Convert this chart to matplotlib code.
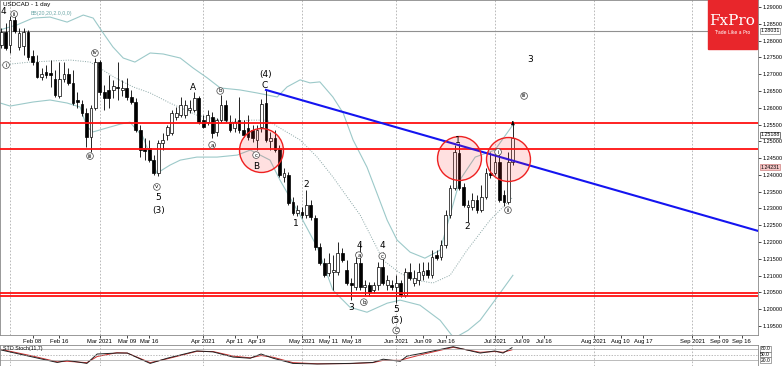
import numpy as np
import pandas as pd
import matplotlib
matplotlib.use('Agg')
import matplotlib.pyplot as plt
from matplotlib.patches import Rectangle

# daily candles from 2021-01-28 (business days)
start = '2021-01-28'
opens = [1.2787, 1.2826, 1.2787, 1.2861, 1.2781, 1.2784, 1.2826, 1.2754, 1.2736, 1.2692,
         1.2706, 1.2703, 1.2686, 1.2635, 1.2686, 1.2700, 1.2674, 1.2623, 1.2611, 1.2584,
         1.2513, 1.2599, 1.2736, 1.2647, 1.2653, 1.2653, 1.2662, 1.2653, 1.2659, 1.2632,
         1.2617, 1.2534, 1.2480, 1.2480, 1.2444, 1.2405, 1.2495, 1.2519, 1.2525, 1.2572,
         1.2578, 1.2578, 1.2593, 1.2593, 1.2629, 1.2563, 1.2557, 1.2572, 1.2528, 1.2563,
         1.2608, 1.2557, 1.2540, 1.2563, 1.2534, 1.2540, 1.2534, 1.2504, 1.2543, 1.2614,
         1.2501, 1.2510, 1.2480, 1.2394, 1.2400, 1.2319, 1.2286, 1.2289, 1.2280, 1.2310,
         1.2271, 1.2185, 1.2137, 1.2107, 1.2110, 1.2110, 1.2167, 1.2116, 1.2078, 1.2066,
         1.2137, 1.2066, 1.2072, 1.2057, 1.2072, 1.2125, 1.2072, 1.2072, 1.2066, 1.2078,
         1.2042, 1.2110, 1.2078, 1.2087, 1.2101, 1.2116, 1.2101, 1.2161, 1.2155, 1.2191,
         1.2280, 1.2361, 1.2465, 1.2364, 1.2304, 1.2304, 1.2325, 1.2295, 1.2334, 1.2405,
         1.2405, 1.2438, 1.2340, 1.2319, 1.2438]
highs = [1.2838, 1.2852, 1.2873, 1.2879, 1.2838, 1.2838, 1.2832, 1.2772, 1.2757, 1.2718,
         1.2727, 1.2742, 1.2712, 1.2736, 1.2736, 1.2718, 1.2712, 1.2647, 1.2623, 1.2599,
         1.2608, 1.2748, 1.2742, 1.2668, 1.2698, 1.2683, 1.2736, 1.2683, 1.2689, 1.2653,
         1.2629, 1.2549, 1.2510, 1.2504, 1.2459, 1.2504, 1.2525, 1.2549, 1.2593, 1.2602,
         1.2632, 1.2623, 1.2623, 1.2647, 1.2635, 1.2578, 1.2593, 1.2587, 1.2569, 1.2638,
         1.2623, 1.2578, 1.2569, 1.2632, 1.2563, 1.2578, 1.2549, 1.2549, 1.2626, 1.2653,
         1.2528, 1.2534, 1.2489, 1.2420, 1.2408, 1.2334, 1.2310, 1.2304, 1.2355, 1.2325,
         1.2280, 1.2197, 1.2152, 1.2167, 1.2161, 1.2200, 1.2182, 1.2146, 1.2093, 1.2170,
         1.2197, 1.2087, 1.2081, 1.2081, 1.2140, 1.2170, 1.2101, 1.2087, 1.2101, 1.2087,
         1.2122, 1.2137, 1.2116, 1.2137, 1.2140, 1.2140, 1.2176, 1.2176, 1.2206, 1.2295,
         1.2370, 1.2489, 1.2495, 1.2376, 1.2325, 1.2346, 1.2340, 1.2370, 1.2420, 1.2468,
         1.2474, 1.2474, 1.2355, 1.2468, 1.2554]
lows = [1.2778, 1.2772, 1.2763, 1.2823, 1.2772, 1.2757, 1.2742, 1.2727, 1.2689, 1.2683,
        1.2689, 1.2662, 1.2632, 1.2629, 1.2677, 1.2668, 1.2608, 1.2599, 1.2575, 1.2483,
        1.2468, 1.2593, 1.2638, 1.2593, 1.2599, 1.2629, 1.2623, 1.2635, 1.2623, 1.2611,
        1.2528, 1.2453, 1.2444, 1.2438, 1.2400, 1.2397, 1.2474, 1.2504, 1.2519, 1.2563,
        1.2572, 1.2569, 1.2584, 1.2587, 1.2551, 1.2540, 1.2549, 1.2510, 1.2516, 1.2557,
        1.2557, 1.2528, 1.2528, 1.2525, 1.2513, 1.2504, 1.2498, 1.2474, 1.2528, 1.2498,
        1.2474, 1.2468, 1.2394, 1.2379, 1.2310, 1.2280, 1.2277, 1.2271, 1.2271, 1.2265,
        1.2176, 1.2131, 1.2096, 1.2099, 1.2057, 1.2101, 1.2140, 1.2072, 1.2027, 1.2057,
        1.2057, 1.2042, 1.2039, 1.2048, 1.2057, 1.2072, 1.2057, 1.2057, 1.2018, 1.2036,
        1.2036, 1.2087, 1.2069, 1.2072, 1.2087, 1.2093, 1.2093, 1.2146, 1.2146, 1.2182,
        1.2271, 1.2355, 1.2355, 1.2304, 1.2259, 1.2295, 1.2286, 1.2289, 1.2328, 1.2391,
        1.2400, 1.2319, 1.2307, 1.2313, 1.2429]
closes = [1.2826, 1.2778, 1.2861, 1.2829, 1.2823, 1.2826, 1.2751, 1.2736, 1.2692, 1.2700,
          1.2698, 1.2698, 1.2638, 1.2686, 1.2700, 1.2674, 1.2614, 1.2617, 1.2584, 1.2513,
          1.2599, 1.2736, 1.2647, 1.2629, 1.2629, 1.2665, 1.2659, 1.2659, 1.2632, 1.2617,
          1.2534, 1.2474, 1.2471, 1.2444, 1.2405, 1.2495, 1.2504, 1.2543, 1.2584, 1.2584,
          1.2608, 1.2608, 1.2599, 1.2629, 1.2557, 1.2543, 1.2578, 1.2525, 1.2563, 1.2608,
          1.2563, 1.2534, 1.2557, 1.2534, 1.2519, 1.2513, 1.2510, 1.2534, 1.2611, 1.2504,
          1.2510, 1.2474, 1.2400, 1.2405, 1.2316, 1.2286, 1.2295, 1.2280, 1.2310, 1.2274,
          1.2185, 1.2137, 1.2101, 1.2137, 1.2116, 1.2167, 1.2146, 1.2078, 1.2072, 1.2137,
          1.2066, 1.2072, 1.2051, 1.2072, 1.2125, 1.2078, 1.2087, 1.2066, 1.2078, 1.2042,
          1.2110, 1.2093, 1.2093, 1.2110, 1.2113, 1.2101, 1.2155, 1.2152, 1.2191, 1.2280,
          1.2361, 1.2468, 1.2361, 1.2310, 1.2310, 1.2325, 1.2295, 1.2334, 1.2405, 1.2400,
          1.2438, 1.2325, 1.2319, 1.2438, 1.2510]

# Bollinger bands (bar index, price)
bb_up_x = [-0.2, 3.6, 7.1, 10.9, 14.7, 18.3, 20.5, 22.7, 24.9, 27.2, 29.8, 33.2, 36.1, 39.9, 42.8,
           45.9, 48.8, 53.2, 57.0, 61.5, 63.7, 66.6, 68.8, 71.0, 73.9, 76.2, 78.4, 81.5, 83.7,
           86.0, 88.2, 91.1, 94.4, 97.8, 100.0, 102.2, 105.6, 110.0, 114.0]
bb_up_y = [1.2832, 1.2847, 1.2867, 1.2870, 1.2855, 1.2876, 1.2867, 1.2823, 1.2781, 1.2748, 1.2736,
           1.2763, 1.2760, 1.2748, 1.2718, 1.2689, 1.2659, 1.2653, 1.2644, 1.2632, 1.2662, 1.2683,
           1.2674, 1.2677, 1.2632, 1.2584, 1.2504, 1.2423, 1.2346, 1.2265, 1.2206, 1.2170, 1.2152,
           1.2176, 1.2280, 1.2385, 1.2453, 1.2474, 1.2549]
bb_mid_x = [-0.2, 6.5, 15.4, 19.8, 22.0, 25.4, 29.4, 33.2, 37.6, 43.6, 51.0, 55.5, 59.2, 62.8,
            66.6, 70.4, 73.9, 77.1, 80.0, 85.1, 88.9, 92.2, 96.2, 100.0, 103.8, 108.9, 114.0]
bb_mid_y = [1.2727, 1.2736, 1.2742, 1.2736, 1.2718, 1.2689, 1.2662, 1.2644, 1.2614, 1.2578,
            1.2557, 1.2563, 1.2563, 1.2534, 1.2504, 1.2453, 1.2394, 1.2334, 1.2280, 1.2146,
            1.2107, 1.2087, 1.2078, 1.2101, 1.2176, 1.2265, 1.2334]
bb_lo_x = [-0.2, 2.0, 7.1, 10.9, 14.7, 17.6, 19.1, 20.5, 23.6, 26.5, 28.7, 31.6, 34.7, 37.6,
           39.9, 43.6, 48.1, 52.6, 55.5, 59.9, 62.1, 64.4, 66.6, 70.4, 73.9, 77.7, 81.5, 86.0,
           88.9, 93.3, 97.8, 100.4, 101.6, 104.0, 106.7, 110.0, 114.0]
bb_lo_y = [1.2614, 1.2605, 1.2617, 1.2623, 1.2614, 1.2602, 1.2543, 1.2528, 1.2540, 1.2551,
           1.2557, 1.2513, 1.2405, 1.2429, 1.2444, 1.2453, 1.2453, 1.2459, 1.2474, 1.2444,
           1.2385, 1.2331, 1.2280, 1.2185, 1.2057, 1.2006, 1.1991, 1.2018, 1.2027, 1.2012,
           1.1967, 1.1922, 1.1919, 1.1937, 1.1967, 1.2027, 1.2101]

# stochastic panel
sto_x = [-0.2, 7.1, 12.5, 14.7, 19.1, 21.4, 25.8, 28.1, 33.2, 37.0, 43.6, 47.2, 51.7, 55.5, 57.9,
         60.6, 65.0, 70.4, 77.7, 82.8, 85.1, 88.9, 90.4, 94.0, 100.7, 106.7, 110.0, 111.8, 113.8]
sto_main = [75, 37, 9, 20, 4, 53, 58, 58, 4, 31, 69, 64, 37, 31, 53, 31, 4, 1, 4, 9, 26, 15, 42,
            58, 91, 58, 69, 58, 86]
sto_signal = [78, 42, 12, 15, 8, 40, 60, 58, 8, 28, 67, 66, 42, 33, 45, 36, 8, 2, 3, 8, 20, 20,
              30, 52, 88, 62, 66, 62, 75]

# support / resistance and trend line
res_levels = [1.2555, 1.2477, 1.2049, 1.2040]
trend_dates = ['2021-04-21', '2021-09-24']
trend_prices = [1.2653, 1.2224]
gray_level = 1.2829

price_ticks = np.arange(1.195, 1.2901, 0.005)
date_ticks = ['2021-02-08', '2021-02-16', '2021-03-01', '2021-03-09', '2021-03-16', '2021-04-01',
              '2021-04-12', '2021-04-19', '2021-05-03', '2021-05-11', '2021-05-18', '2021-06-01',
              '2021-06-09', '2021-06-16', '2021-07-01', '2021-07-09', '2021-07-16', '2021-08-02',
              '2021-08-10', '2021-08-17', '2021-09-01', '2021-09-09', '2021-09-16']
date_labels = ['Feb 08', 'Feb 16', 'Mar 2021', 'Mar 09', 'Mar 16', 'Apr 2021', 'Apr 11', 'Apr 19',
               'May 2021', 'May 11', 'May 18', 'Jun 2021', 'Jun 09', 'Jun 16', 'Jul 2021', 'Jul 09',
               'Jul 16', 'Aug 2021', 'Aug 10', 'Aug 17', 'Sep 2021', 'Sep 09', 'Sep 16']
month_starts = ['2021-02-01', '2021-03-01', '2021-04-01', '2021-05-03', '2021-06-01',
                '2021-07-01', '2021-08-02', '2021-09-01']

# wave labels: (bar index, price, text, circled)
waves = [(0.4, 1.2888, '4', False), (1.1, 1.2727, 'i', True), (2.9, 1.2879, 'ii', True),
         (19.8, 1.2456, 'iii', True), (20.9, 1.2763, 'iv', True), (34.7, 1.2364, 'v', True),
         (35.0, 1.2334, '5', False), (35.0, 1.2295, '(3)', False), (42.8, 1.2659, 'A', False),
         (47.0, 1.2489, 'a', True), (48.8, 1.2650, 'b', True), (56.8, 1.2459, 'c', True),
         (56.8, 1.2426, 'B', False), (58.8, 1.2698, '(4)', False), (58.8, 1.2665, 'C', False),
         (65.7, 1.2256, '1', False), (67.9, 1.2370, '2', False), (77.9, 1.2006, '3', False),
         (79.7, 1.2191, '4', False), (79.7, 1.2161, 'a', True), (80.8, 1.2021, 'b', True),
         (84.9, 1.2191, '4', False), (84.9, 1.2158, 'c', True), (88.0, 1.2000, '5', False),
         (88.0, 1.1967, '(5)', False), (88.0, 1.1937, 'C', True), (101.8, 1.2501, '1', False),
         (103.8, 1.2245, '2', False), (110.7, 1.2468, 'i', True), (112.9, 1.2295, 'ii', True),
         (117.8, 1.2745, '3', False), (116.5, 1.2635, 'iii', True)]
circles = [(57.9, 1.2474), (102.0, 1.2450), (112.9, 1.2447)]


def bx(d):
    return np.busday_count(start, d)


W, H = 782, 366
fig = plt.figure(figsize=(W / 100, H / 100), dpi=100)
ax = fig.add_axes([0, 31 / H, 758 / W, 335 / H])
ax2 = fig.add_axes([0, 0, 758 / W, 21 / H])
xlim = (-0.25, 168.6)
small = 'Liberation Sans'

o, h, l, c = map(np.array, (opens, highs, lows, closes))
x = np.arange(len(o))
up = c >= o
ax.vlines(x, l, h, color='black', lw=0.6, zorder=3)
ax.bar(x, np.abs(c - o) + 0.00008, bottom=np.minimum(o, c), width=0.62,
       color=np.where(up, 'white', 'black'), edgecolor='black', lw=0.5, zorder=4)

band = '#9cc9c9'
ax.plot(bb_up_x, bb_up_y, color=band, lw=0.8, zorder=2)
ax.plot(bb_lo_x, bb_lo_y, color=band, lw=0.8, zorder=2)
ax.plot(bb_mid_x, bb_mid_y, color='#8aa6a6', lw=0.7, ls=(0, (1, 1.5)), zorder=2)

for lv in res_levels:
    ax.axhline(lv, color='#ff1010', lw=1.3, zorder=5)
ax.axhline(gray_level, color='#909090', lw=0.8, zorder=1)
ax.plot([bx(d) for d in trend_dates], trend_prices, color='#1414f0', lw=1.5, zorder=5)

cx, cy = zip(*circles)
ax.scatter(cx, cy, s=1000, facecolor=(1, 0.2, 0.2, 0.15), edgecolor='#ee2020', lw=1, zorder=6)

for wx, wy, t, circ in waves:
    if circ:
        ax.text(wx, wy, t, fontsize=4, ha='center', va='center', zorder=7,
                bbox=dict(boxstyle='circle,pad=0.15', fc='white', ec='#444444', lw=0.5))
    else:
        ax.text(wx, wy, t, fontsize=6.5, ha='center', va='center', zorder=7)
ax.annotate('', xy=(x[-1], h[-1] + 0.0006), xytext=(x[-1], h[-1] - 0.0004),
            arrowprops=dict(arrowstyle='-|>', color='black', lw=0.6, mutation_scale=5), zorder=7)

for a in (ax, ax2):
    a.set_xlim(*xlim)
    for d in month_starts:
        a.axvline(bx(d), color='#b0b0b0', lw=0.6, ls=(0, (2, 2)), zorder=0)
    for s in a.spines.values():
        s.set_color('#888888')
        s.set_linewidth(0.6)

ax.set_ylim(1.19232, 1.29208)
ax.yaxis.tick_right()
ax.set_yticks(price_ticks)
ax.set_yticklabels(['%.5f' % v for v in price_ticks], family=small)
ax.tick_params(axis='y', labelsize=4, length=2, pad=1, width=0.5)
ax.set_xticks([bx(d) for d in date_ticks])
ax.set_xticklabels(date_labels, family=small)
ax.tick_params(axis='x', labelsize=4.2, length=2, pad=1, width=0.5)

tag = dict(xycoords=('axes fraction', 'data'), fontsize=3.8, va='center', ha='left',
           annotation_clip=False, zorder=8, family=small)
ax.annotate('1.28031', xy=(1.003, gray_level),
            bbox=dict(boxstyle='square,pad=0.12', fc='white', ec='#808080', lw=0.5), **tag)
ax.annotate('1.25188', xy=(1.003, 1.25188),
            bbox=dict(boxstyle='square,pad=0.12', fc='white', ec='#404040', lw=0.5), **tag)
ax.annotate('1.24231', xy=(1.003, 1.24231),
            bbox=dict(boxstyle='square,pad=0.12', fc='#f6c8c8', ec='#d08080', lw=0.5), **tag)

ax.text(0.004, 0.993, 'USDCAD - 1 day', transform=ax.transAxes, fontsize=4.5, va='top',
        family=small)
ax.text(0.04, 0.968, 'BB(20,20,2.0,0,0)', transform=ax.transAxes, fontsize=3.8,
        va='top', color='#6aa6a6', family=small)

ax2.plot(sto_x, sto_signal, color='#d03030', lw=0.7)
ax2.plot(sto_x, sto_main, color='#222222', lw=0.7)
ax2.set_ylim(-9.5, 100)
ax2.axhline(80, color='#a0a0a0', lw=0.5)
ax2.axhline(50, color='#a0a0a0', lw=0.5, ls=(0, (2, 2)))
ax2.axhline(20, color='#a0a0a0', lw=0.5)
ax2.set_xticks([])
ax2.set_yticks([])
ax2.text(0.004, 0.95, 'STO Stoch(11,7)', transform=ax2.transAxes, fontsize=3.8, va='top',
         family=small)
for lv in (80, 50, 20):
    ax2.annotate('%.1f' % lv, xy=(1.003, lv), fontsize=3.6, va='center', ha='left',
                 xycoords=('axes fraction', 'data'), annotation_clip=False, family=small,
                 bbox=dict(boxstyle='square,pad=0.08', fc='white', ec='#606060', lw=0.4))

# FxPro logo
fig.patches.append(Rectangle((708 / W, 1 - 49 / H), 49 / W, 49 / H, transform=fig.transFigure,
                             color='#e8262b', zorder=10))
fig.text(732 / W, 1 - 21 / H, 'FxPro', color='white', fontsize=11, ha='center', va='center',
         family='DejaVu Serif', zorder=11)
fig.text(732 / W, 1 - 32 / H, 'Trade Like a Pro', color='white', fontsize=3.3, ha='center',
         va='center', zorder=11)

fig.savefig('out.png', dpi=100)
